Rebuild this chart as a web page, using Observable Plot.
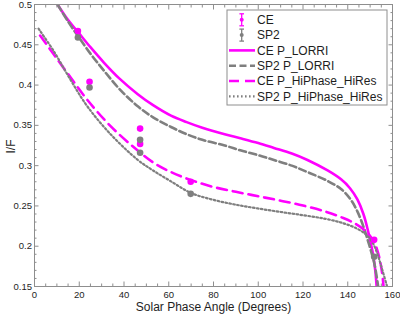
<!DOCTYPE html>
<html>
<head>
<meta charset="utf-8">
<script src="https://cdn.jsdelivr.net/npm/d3@7"></script>
<script src="https://cdn.jsdelivr.net/npm/@observablehq/plot@0.6"></script>
<style>
  html, body { margin: 0; padding: 0; background: #fff; }
  #chart { width: 400px; height: 316px; }
</style>
</head>
<body>
<div id="chart"></div>
<script>
// Observed I/F at each solar phase angle (degrees)
const ceObsX  = [19.4, 24.6, 47.2, 47.2, 69.8, 151.8];
const ceObsY  = [0.467, 0.404, 0.346, 0.327, 0.280, 0.208];
const sp2ObsX = [19.4, 24.6, 47.2, 47.2, 69.8, 151.8];
const sp2ObsY = [0.459, 0.397, 0.332, 0.316, 0.265, 0.187];

// Model phase curves: CE and SP2 with the LORRI phase function
const ceLorriX  = [10.3, 15.2, 19.4, 25, 31, 38, 46, 53, 61, 68, 75, 85, 92, 100, 107, 115, 122, 131, 137, 141, 144.3, 147, 148.8, 150.2, 151.3, 152.3, 152.9];
const ceLorriY  = [0.5, 0.480, 0.466, 0.447, 0.428, 0.408, 0.389, 0.375, 0.362, 0.354, 0.347, 0.339, 0.334, 0.328, 0.322, 0.315, 0.307, 0.294, 0.283, 0.272, 0.258, 0.240, 0.222, 0.205, 0.190, 0.170, 0.15];
const sp2LorriX = [10.3, 15.2, 19.4, 25, 31, 38, 46, 53, 61, 68, 75, 85, 92, 100, 107, 115, 122, 131, 137, 141.3, 144.5, 147.3, 149, 150.5, 152, 153.6];
const sp2LorriY = [0.5, 0.478, 0.461, 0.439, 0.418, 0.395, 0.374, 0.360, 0.348, 0.339, 0.332, 0.325, 0.319, 0.313, 0.307, 0.300, 0.292, 0.281, 0.271, 0.258, 0.242, 0.222, 0.207, 0.193, 0.177, 0.15];

// Model phase curves: CE and SP2 with the high-phase, high-resolution function
const ceHiX  = [2.5, 8.5, 16, 23.5, 34, 46, 53, 61, 70, 80, 90, 100, 110, 120, 130, 138, 143, 147, 150, 152, 154, 155.3, 156];
const ceHiY  = [0.4615, 0.4385, 0.410, 0.382, 0.349, 0.319, 0.304, 0.292, 0.282, 0.2735, 0.2675, 0.262, 0.2565, 0.2505, 0.243, 0.235, 0.2285, 0.221, 0.2125, 0.204, 0.187, 0.168, 0.15];
const sp2HiX = [1.8, 8.5, 16, 23.5, 34, 46, 53, 61, 70, 80, 90, 100, 110, 120, 130, 138, 144, 148, 151, 153.3, 155.5, 157.6];
const sp2HiY = [0.470, 0.4425, 0.407, 0.374, 0.339, 0.3075, 0.294, 0.2805, 0.266, 0.2575, 0.2515, 0.2468, 0.2425, 0.2385, 0.234, 0.2285, 0.222, 0.215, 0.205, 0.190, 0.170, 0.15];

// Axis ticks and labels
const xTicks = [0, 20, 40, 60, 80, 100, 120, 140, 160];
const yTicks = [0.15, 0.2, 0.25, 0.3, 0.35, 0.4, 0.45, 0.5];
const xMinorTicks = d3.range(0, 161, 5).filter(v => v % 20 !== 0);
const yMinorTicks = d3.range(15, 51).filter(v => v % 5 !== 0).map(v => v / 100);
const xLabel = "Solar Phase Angle (Degrees)";
const yLabel = "I/F";
const legendLabels = ["CE", "SP2", "CE P_LORRI", "SP2 P_LORRI", "CE P_HiPhase_HiRes", "SP2 P_HiPhase_HiRes"];

const magenta = "#ff00ff";
const grey = "#7f7f7f";
const axisColor = "#8e8e8e";
const ink = "#1e1e1e";
const font = "'Liberation Sans', Arial, Helvetica, sans-serif";

const pts = (xs, ys) => xs.map((x, i) => ({x, y: ys[i]}));

const lineStyles = [
  {stroke: magenta, strokeWidth: 2.6},
  {stroke: grey, strokeWidth: 2.6, strokeDasharray: "7,3.5"},
  {stroke: magenta, strokeWidth: 2.6, strokeDasharray: "10,6"},
  {stroke: grey, strokeWidth: 2.2, strokeDasharray: "1.6,2.4"}
];
const curves = [pts(ceLorriX, ceLorriY), pts(sp2LorriX, sp2LorriY), pts(ceHiX, ceHiY), pts(sp2HiX, sp2HiY)];

const tickCommon = {stroke: axisColor, label: null};

const chart = Plot.plot({
  width: 400,
  height: 316,
  marginLeft: 34,
  marginRight: 8,
  marginTop: 4,
  marginBottom: 30,
  style: {fontFamily: font, background: "#fff", color: ink},
  x: {domain: [0, 160], axis: null},
  y: {domain: [0.15, 0.5], axis: null},
  marks: [
    // model curves
    ...curves.map((c, i) => Plot.line(c, {x: "x", y: "y", curve: "catmull-rom", clip: true, ...lineStyles[i]})),
    // observations
    Plot.dot(pts(ceObsX, ceObsY), {x: "x", y: "y", r: 3.3, fill: magenta}),
    Plot.dot(pts(sp2ObsX, sp2ObsY), {x: "x", y: "y", r: 3.3, fill: grey}),
    // box and inward ticks on all four sides
    Plot.frame({stroke: axisColor, strokeWidth: 1}),
    Plot.axisX(xTicks, {anchor: "bottom", tickSize: -4.5, tickPadding: 9, fontSize: 9.5, fill: ink, tickFormat: d => String(d), ...tickCommon}),
    Plot.axisX(xTicks, {anchor: "top", tickSize: -4.5, fill: "none", ...tickCommon}),
    Plot.axisX(xMinorTicks, {anchor: "bottom", tickSize: -2.5, fill: "none", ...tickCommon}),
    Plot.axisX(xMinorTicks, {anchor: "top", tickSize: -2.5, fill: "none", ...tickCommon}),
    Plot.axisY(yTicks, {anchor: "left", tickSize: -4.5, tickPadding: 7, fontSize: 9.5, fill: ink, tickFormat: d => String(d), ...tickCommon}),
    Plot.axisY(yTicks, {anchor: "right", tickSize: -4.5, fill: "none", ...tickCommon}),
    Plot.axisY(yMinorTicks, {anchor: "left", tickSize: -2.5, fill: "none", ...tickCommon}),
    Plot.axisY(yMinorTicks, {anchor: "right", tickSize: -2.5, fill: "none", ...tickCommon}),
    // axis titles
    Plot.text([xLabel], {frameAnchor: "bottom", textAnchor: "middle", lineAnchor: "middle", dy: 21, fontSize: 12, fill: ink}),
    Plot.text([yLabel], {frameAnchor: "left", textAnchor: "middle", lineAnchor: "middle", dx: -23.5, dy: 1, rotate: -90, fontSize: 12, fill: ink})
  ]
});

// Legend box in the upper right of the plot area
const svg = d3.select(chart);
const lg = svg.append("g").attr("font-family", font).attr("font-size", 12).attr("text-anchor", "start");
lg.append("rect").attr("x", 227).attr("y", 10).attr("width", 160).attr("height", 95)
  .attr("fill", "#fff").attr("stroke", axisColor).attr("stroke-width", 1);
const rowY = i => 19.8 + i * 15.3;
legendLabels.forEach((label, i) => {
  const y = rowY(i);
  if (i < 2) {
    const c = i === 0 ? magenta : grey;
    const gx = 241.7;
    lg.append("line").attr("x1", gx).attr("x2", gx).attr("y1", y - 6).attr("y2", y + 6).attr("stroke", c).attr("stroke-width", 1.3);
    lg.append("line").attr("x1", gx - 2.3).attr("x2", gx + 2.3).attr("y1", y - 6).attr("y2", y - 6).attr("stroke", c).attr("stroke-width", 1.3);
    lg.append("line").attr("x1", gx - 2.3).attr("x2", gx + 2.3).attr("y1", y + 6).attr("y2", y + 6).attr("stroke", c).attr("stroke-width", 1.3);
    lg.append("circle").attr("cx", gx).attr("cy", y).attr("r", 2).attr("fill", c);
  } else {
    const s = lineStyles[i - 2];
    lg.append("line").attr("x1", 229).attr("x2", 255).attr("y1", y).attr("y2", y)
      .attr("stroke", s.stroke).attr("stroke-width", s.strokeWidth)
      .attr("stroke-dasharray", s.strokeDasharray || null);
  }
  lg.append("text").attr("x", 257).attr("y", y).attr("dy", "0.36em").attr("text-anchor", "start").attr("fill", ink).text(label);
});

document.getElementById("chart").appendChild(chart);
</script>
</body>
</html>
